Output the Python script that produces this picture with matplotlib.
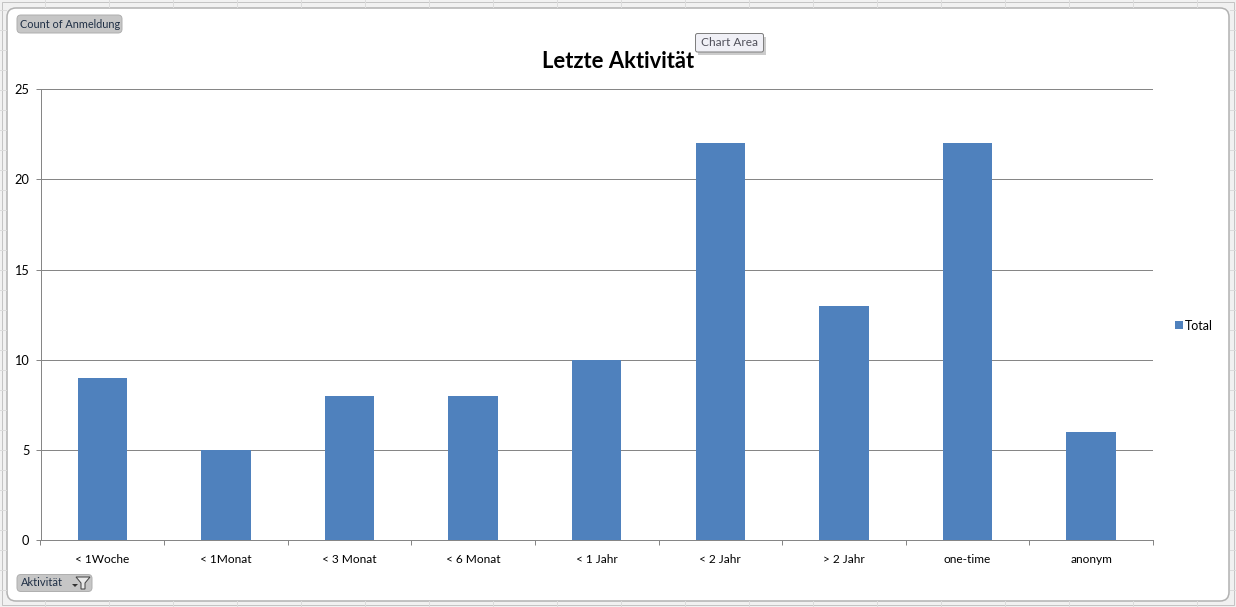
import matplotlib
matplotlib.use("Agg")
import matplotlib.pyplot as plt
from matplotlib.patches import FancyBboxPatch, Rectangle
from matplotlib.lines import Line2D

categories = ["< 1Woche", "< 1Monat", "< 3 Monat", "< 6 Monat", "< 1 Jahr",
              "< 2 Jahr", "> 2 Jahr", "one-time", "anonym"]
values = [9, 5, 8, 8, 10, 22, 13, 22, 6]
y_ticks = [0, 5, 10, 15, 20, 25]
title = "Letzte Aktivität"
series_name = "Total"

W = 1236
H = 607
BLUE = "#4F81BD"
GREY = "#868686"
FONT = "Lato"
PX = 0.72  # one pixel as a line width at dpi 100

plt.rcParams["font.family"] = [FONT, "DejaVu Sans"]

fig = plt.figure(figsize=(W / 100, H / 100), dpi=100, facecolor="#F1F1F1")

# background layer in pixel coordinates (y going down)
bg = fig.add_axes([0, 0, 1, 1])
bg.set_xlim(0, W)
bg.set_ylim(H, 0)
bg.axis("off")

# the worksheet cell lines behind the chart
for x in [45, 109, 173, 237, 301, 365, 429, 493, 557, 621, 685, 749, 813, 877, 941, 1005, 1069, 1133, 1197]:
    bg.add_line(Line2D([x, x], [0, 7], color="#DCDCDC", lw=PX))
    bg.add_line(Line2D([x, x], [601, H], color="#DCDCDC", lw=PX))
for y in [10, 30, 50, 70, 90, 110, 130, 150, 170, 190, 210, 230, 250, 270, 290, 310, 330, 350, 370, 390, 410,
          430, 450, 470, 490, 510, 530, 550, 570, 590]:
    bg.add_line(Line2D([0, 6], [y, y], color="#DCDCDC", lw=PX))
    bg.add_line(Line2D([1230, W], [y, y], color="#DCDCDC", lw=PX))

# chart frame
bg.add_patch(Rectangle((2, 2), W - 4, H - 4, fc="none", ec="#C4C4C4", lw=PX))
bg.add_patch(FancyBboxPatch((7, 8), 1222, 593, boxstyle="round,pad=0,rounding_size=9",
                            fc="white", ec="#B2B2B2", lw=1.1))

# the bar chart
ax = fig.add_axes([40.5 / W, 1 - 540.3 / H, (1153 - 40.5) / W, (540.3 - 89) / H])
ax.patch.set_alpha(0)
positions = list(range(len(categories)))
ax.bar(positions, values, width=0.4, color=BLUE, zorder=3, label=series_name)
ax.set_xlim(-0.5, len(categories) - 0.5)
ax.set_ylim(0, 25)
ax.set_yticks(y_ticks)
ax.set_xticks(positions)
ax.set_xticklabels(categories)
ax.set_xticks([p - 0.5 for p in positions] + [len(categories) - 0.5], minor=True)
ax.tick_params(axis="x", which="major", length=0, pad=10, labelsize=8.6)
ax.tick_params(axis="x", which="minor", length=3.6, width=PX, color=GREY, direction="out")
ax.tick_params(axis="y", length=3.6, width=PX, color=GREY, labelsize=9.2, pad=4.5)
ax.grid(axis="y", color=GREY, lw=PX, zorder=1)
for side in ["top", "right"]:
    ax.spines[side].set_visible(False)
for side in ["left", "bottom"]:
    ax.spines[side].set_color(GREY)
    ax.spines[side].set_linewidth(PX)

fig.text(618 / W, 1 - 61.5 / H, title, ha="center", va="center", fontsize=15.8, fontweight="bold", color="black")

# legend
fig.legend(*ax.get_legend_handles_labels(), loc="center left", bbox_to_anchor=(1175 / W, 1 - 325.5 / H),
           frameon=False, fontsize=9, handlelength=0.65, handleheight=0.65, handletextpad=0.15,
           borderpad=0, borderaxespad=0)

# overlay layer for the pivot buttons
top = fig.add_axes([0, 0, 1, 1], zorder=5)
top.set_xlim(0, W)
top.set_ylim(H, 0)
top.axis("off")
top.patch.set_alpha(0)

top.add_patch(FancyBboxPatch((17, 15), 105, 18, boxstyle="round,pad=0,rounding_size=4",
                             fc="#C6C6C6", ec="#B0B0B0", lw=PX))
top.text(20.5, 24.5, "Count of Anmeldung", fontsize=7.8, color="#1F2F45", va="center", ha="left")

top.add_patch(FancyBboxPatch((17, 574.5), 75, 17, boxstyle="round,pad=0,rounding_size=4",
                             fc="#C6C6C6", ec="#B0B0B0", lw=PX))
top.text(20.5, 583, "Aktivität", fontsize=8, color="#1F2F45", va="center", ha="left")
top.fill([72, 78, 75], [584, 584, 587], color="#333333", lw=0)
top.fill([76, 90, 85, 85, 81, 81], [577, 577, 583, 589, 589, 583], fc="#E8E8E8", ec="#444444", lw=PX)

# tooltip with its shadow
top.add_patch(Rectangle((698, 37), 68, 18, fc="#9A9A9A", ec="none", alpha=0.5))
top.add_patch(FancyBboxPatch((695.5, 33.5), 68, 18.5, boxstyle="round,pad=0,rounding_size=2",
                             fc="#F0F0F6", ec="#7F7F7F", lw=PX))
top.text(729.5, 43, "Chart Area", fontsize=8.6, color="#50505A", va="center", ha="center")

fig.savefig("out.png", dpi=100, facecolor=fig.get_facecolor())
